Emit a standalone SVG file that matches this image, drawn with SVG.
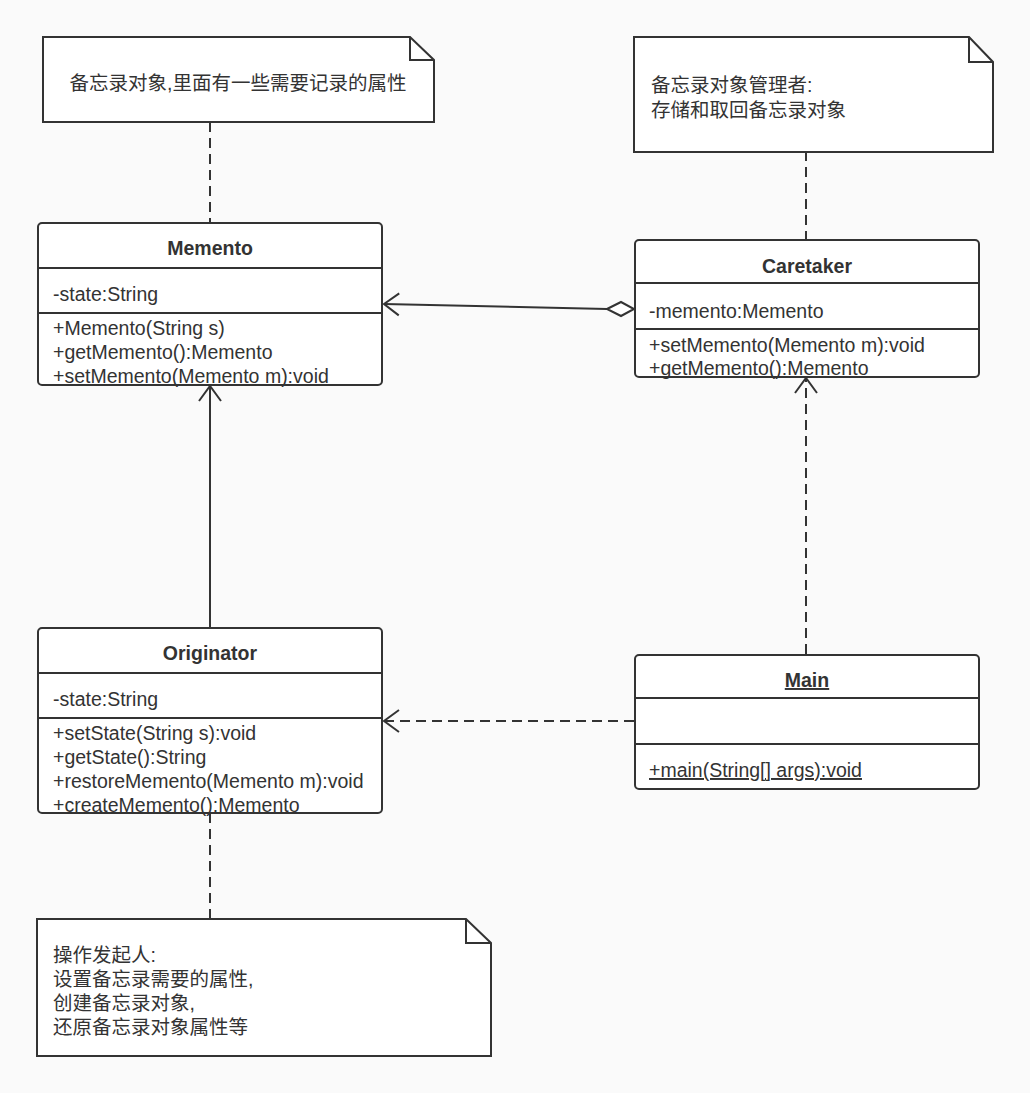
<svg xmlns="http://www.w3.org/2000/svg" width="1030" height="1093" viewBox="0 0 1030 1093">
<style>
.bg{fill:#fafafa}
.box{fill:#ffffff;stroke:#333333;stroke-width:2}
.div{stroke:#333333;stroke-width:2;fill:none}
.t{font-family:"Liberation Sans",Arial,"Noto Sans CJK SC",sans-serif;font-size:19.5px;fill:#333333}
.b{font-weight:bold}
.c{font-family:"Liberation Sans",Arial,"Noto Sans CJK SC",sans-serif;font-size:19.5px;fill:#333333}
.ln{stroke:#333333;stroke-width:2;fill:none}
.dash{stroke-dasharray:10 6}
</style>
<defs>
<marker id="open" markerUnits="userSpaceOnUse" markerWidth="20" markerHeight="26" refX="16" refY="12" orient="auto" overflow="visible">
<path d="M1 1 L16 12 L1 23" fill="none" stroke="#333333" stroke-width="2"/>
</marker>
</defs>
<rect class="bg" x="0" y="0" width="1030" height="1093"/>

<g id="connectors">
<line class="ln dash" x1="210" y1="122" x2="210" y2="223"/>
<line class="ln dash" x1="806" y1="151" x2="806" y2="240"/>
<line class="ln" x1="607" y1="309" x2="384" y2="304" marker-end="url(#open)"/>
<polygon points="607,309 621,302 634,309 621,316" fill="#ffffff" stroke="#333333" stroke-width="2"/>
<line class="ln" x1="210" y1="628" x2="210" y2="386" marker-end="url(#open)"/>
<line class="ln dash" x1="806" y1="654" x2="806" y2="378" marker-end="url(#open)"/>
<line class="ln dash" x1="634" y1="721" x2="384" y2="721" marker-end="url(#open)"/>
<line class="ln dash" x1="210" y1="813" x2="210" y2="919"/>
</g>

<g id="note-memento">
<path class="box" d="M43 37 H410 L434 60 V122 H43 Z"/>
<path class="div" d="M410 37 V60 H434"/>
<text class="c" x="238" y="90" text-anchor="middle">备忘录对象,里面有一些需要记录的属性</text>
</g>

<g id="note-caretaker">
<path class="box" d="M634 37 H969 L993 62 V152 H634 Z"/>
<path class="div" d="M969 37 V62 H993"/>
<text class="c" x="651" y="92">备忘录对象管理者:</text>
<text class="c" x="651" y="117">存储和取回备忘录对象</text>
</g>

<g id="note-originator">
<path class="box" d="M37 919 H466 L491 943 V1056 H37 Z"/>
<path class="div" d="M466 919 V943 H491"/>
<text class="c" x="53" y="962">操作发起人:</text>
<text class="c" x="53" y="986">设置备忘录需要的属性,</text>
<text class="c" x="53" y="1010">创建备忘录对象,</text>
<text class="c" x="53" y="1034">还原备忘录对象属性等</text>
</g>

<g id="memento">
<rect class="box" x="38" y="223" width="344" height="162" rx="4"/>
<line class="div" x1="38" y1="268" x2="382" y2="268"/>
<line class="div" x1="38" y1="313" x2="382" y2="313"/>
<text class="t b" x="210" y="255" text-anchor="middle">Memento</text>
<text class="t" x="53" y="301">-state:String</text>
<text class="t" x="53" y="335">+Memento(String s)</text>
<text class="t" x="53" y="359">+getMemento():Memento</text>
<text class="t" x="53" y="383">+setMemento(Memento m):void</text>
</g>

<g id="caretaker">
<rect class="box" x="635" y="240" width="344" height="137" rx="4"/>
<line class="div" x1="635" y1="283" x2="979" y2="283"/>
<line class="div" x1="635" y1="329" x2="979" y2="329"/>
<text class="t b" x="807" y="273" text-anchor="middle">Caretaker</text>
<text class="t" x="649" y="318">-memento:Memento</text>
<text class="t" x="649" y="352">+setMemento(Memento m):void</text>
<text class="t" x="649" y="375">+getMemento():Memento</text>
</g>

<g id="originator">
<rect class="box" x="38" y="628" width="344" height="185" rx="4"/>
<line class="div" x1="38" y1="673" x2="382" y2="673"/>
<line class="div" x1="38" y1="718" x2="382" y2="718"/>
<text class="t b" x="210" y="660" text-anchor="middle">Originator</text>
<text class="t" x="53" y="706">-state:String</text>
<text class="t" x="53" y="740">+setState(String s):void</text>
<text class="t" x="53" y="764">+getState():String</text>
<text class="t" x="53" y="788">+restoreMemento(Memento m):void</text>
<text class="t" x="53" y="812">+createMemento():Memento</text>
</g>

<g id="main">
<rect class="box" x="635" y="655" width="344" height="134" rx="4"/>
<line class="div" x1="635" y1="698" x2="979" y2="698"/>
<line class="div" x1="635" y1="744" x2="979" y2="744"/>
<text class="t b" x="807" y="687" text-anchor="middle" text-decoration="underline">Main</text>
<text class="t" x="649" y="777" text-decoration="underline">+main(String[] args):void</text>
</g>
</svg>
